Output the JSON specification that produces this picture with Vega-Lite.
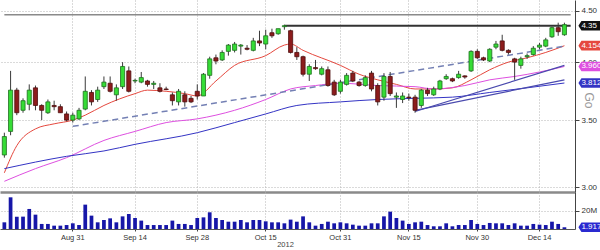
{
  "$schema": "https://vega.github.io/schema/vega-lite/v6.json",
  "padding": 0,
  "spacing": 0,
  "background": "white",
  "config": {
    "view": {"stroke": null},
    "axis": {"labelFont": "Liberation Sans", "titleFont": "Liberation Sans", "labelFontSize": 8, "labelColor": "#333", "domainColor": "#444", "tickColor": "#444", "gridColor": "#b5b5b5", "gridDash": [1, 2], "titleFontWeight": "normal"}
  },
  "datasets": {
    "candles": [
      {"d":"2012-08-16","o":3.23,"h":3.40,"l":3.21,"c":3.37,"v":7.4},
      {"d":"2012-08-17","o":3.41,"h":3.92,"l":3.38,"c":3.75,"v":35.1},
      {"d":"2012-08-20","o":3.75,"h":3.77,"l":3.54,"c":3.56,"v":13.7},
      {"d":"2012-08-21","o":3.58,"h":3.68,"l":3.56,"c":3.66,"v":13.7},
      {"d":"2012-08-22","o":3.63,"h":3.80,"l":3.58,"c":3.75,"v":22.2},
      {"d":"2012-08-23","o":3.77,"h":3.79,"l":3.58,"c":3.62,"v":15.9},
      {"d":"2012-08-24","o":3.62,"h":3.63,"l":3.50,"c":3.58,"v":5.6},
      {"d":"2012-08-27","o":3.56,"h":3.67,"l":3.55,"c":3.65,"v":5.6},
      {"d":"2012-08-28","o":3.62,"h":3.66,"l":3.58,"c":3.61,"v":3.7},
      {"d":"2012-08-29","o":3.61,"h":3.63,"l":3.56,"c":3.56,"v":3.7},
      {"d":"2012-08-30","o":3.55,"h":3.57,"l":3.49,"c":3.50,"v":4.4},
      {"d":"2012-08-31","o":3.50,"h":3.56,"l":3.48,"c":3.54,"v":6.3},
      {"d":"2012-09-03","o":3.51,"h":3.60,"l":3.50,"c":3.58,"v":4.4},
      {"d":"2012-09-04","o":3.59,"h":3.87,"l":3.58,"c":3.74,"v":27.0},
      {"d":"2012-09-05","o":3.73,"h":3.75,"l":3.62,"c":3.65,"v":14.8},
      {"d":"2012-09-06","o":3.67,"h":3.78,"l":3.65,"c":3.75,"v":7.4},
      {"d":"2012-09-07","o":3.78,"h":3.87,"l":3.76,"c":3.82,"v":10.0},
      {"d":"2012-09-10","o":3.81,"h":3.87,"l":3.73,"c":3.74,"v":11.8},
      {"d":"2012-09-11","o":3.71,"h":3.80,"l":3.66,"c":3.77,"v":7.4},
      {"d":"2012-09-12","o":3.78,"h":4.00,"l":3.76,"c":3.96,"v":14.0},
      {"d":"2012-09-13","o":3.92,"h":3.96,"l":3.73,"c":3.74,"v":16.7},
      {"d":"2012-09-14","o":3.83,"h":3.85,"l":3.81,"c":3.835,"v":12.2},
      {"d":"2012-09-17","o":3.82,"h":3.91,"l":3.81,"c":3.86,"v":9.3},
      {"d":"2012-09-18","o":3.83,"h":3.84,"l":3.78,"c":3.80,"v":4.4},
      {"d":"2012-09-19","o":3.80,"h":3.83,"l":3.76,"c":3.81,"v":4.4},
      {"d":"2012-09-20","o":3.77,"h":3.81,"l":3.73,"c":3.74,"v":4.4},
      {"d":"2012-09-21","o":3.76,"h":3.78,"l":3.75,"c":3.755,"v":4.4},
      {"d":"2012-09-24","o":3.71,"h":3.73,"l":3.62,"c":3.66,"v":9.3},
      {"d":"2012-09-25","o":3.65,"h":3.76,"l":3.62,"c":3.74,"v":5.6},
      {"d":"2012-09-26","o":3.71,"h":3.74,"l":3.61,"c":3.65,"v":5.6},
      {"d":"2012-09-27","o":3.68,"h":3.70,"l":3.64,"c":3.65,"v":4.4},
      {"d":"2012-09-28","o":3.74,"h":3.80,"l":3.67,"c":3.70,"v":12.2},
      {"d":"2012-10-01","o":3.70,"h":3.90,"l":3.70,"c":3.89,"v":12.9},
      {"d":"2012-10-02","o":3.88,"h":4.05,"l":3.85,"c":4.03,"v":18.5},
      {"d":"2012-10-03","o":4.04,"h":4.07,"l":3.98,"c":4.01,"v":12.2},
      {"d":"2012-10-04","o":4.02,"h":4.11,"l":4.01,"c":4.09,"v":10.0},
      {"d":"2012-10-05","o":4.10,"h":4.17,"l":4.06,"c":4.16,"v":8.1},
      {"d":"2012-10-08","o":4.11,"h":4.19,"l":4.09,"c":4.17,"v":8.1},
      {"d":"2012-10-09","o":4.15,"h":4.17,"l":4.07,"c":4.16,"v":10.0},
      {"d":"2012-10-10","o":4.13,"h":4.16,"l":4.11,"c":4.12,"v":7.4},
      {"d":"2012-10-11","o":4.11,"h":4.23,"l":4.10,"c":4.20,"v":10.0},
      {"d":"2012-10-12","o":4.20,"h":4.30,"l":4.15,"c":4.18,"v":10.0},
      {"d":"2012-10-15","o":4.17,"h":4.31,"l":4.12,"c":4.25,"v":8.5},
      {"d":"2012-10-16","o":4.28,"h":4.32,"l":4.23,"c":4.25,"v":7.4},
      {"d":"2012-10-17","o":4.27,"h":4.32,"l":4.26,"c":4.32,"v":7.4},
      {"d":"2012-10-18","o":4.34,"h":4.36,"l":4.31,"c":4.35,"v":6.3},
      {"d":"2012-10-19","o":4.30,"h":4.31,"l":4.08,"c":4.09,"v":10.4},
      {"d":"2012-10-22","o":4.09,"h":4.14,"l":4.02,"c":4.05,"v":8.1},
      {"d":"2012-10-23","o":4.05,"h":4.06,"l":3.87,"c":3.89,"v":14.0},
      {"d":"2012-10-24","o":3.89,"h":3.98,"l":3.83,"c":3.96,"v":7.4},
      {"d":"2012-10-25","o":3.95,"h":4.02,"l":3.93,"c":3.94,"v":3.7},
      {"d":"2012-10-26","o":3.89,"h":3.96,"l":3.88,"c":3.94,"v":5.6},
      {"d":"2012-10-29","o":3.93,"h":3.96,"l":3.78,"c":3.79,"v":8.1},
      {"d":"2012-10-30","o":3.82,"h":3.84,"l":3.70,"c":3.71,"v":6.3},
      {"d":"2012-10-31","o":3.74,"h":3.84,"l":3.72,"c":3.82,"v":7.4},
      {"d":"2012-11-01","o":3.80,"h":3.90,"l":3.79,"c":3.88,"v":6.3},
      {"d":"2012-11-02","o":3.90,"h":3.92,"l":3.82,"c":3.83,"v":4.8},
      {"d":"2012-11-05","o":3.82,"h":3.83,"l":3.78,"c":3.79,"v":3.7},
      {"d":"2012-11-06","o":3.79,"h":3.88,"l":3.78,"c":3.86,"v":3.7},
      {"d":"2012-11-07","o":3.90,"h":3.92,"l":3.74,"c":3.76,"v":6.3},
      {"d":"2012-11-08","o":3.79,"h":3.81,"l":3.62,"c":3.65,"v":6.3},
      {"d":"2012-11-09","o":3.69,"h":3.90,"l":3.66,"c":3.87,"v":14.0},
      {"d":"2012-11-12","o":3.87,"h":3.91,"l":3.70,"c":3.72,"v":19.2},
      {"d":"2012-11-13","o":3.69,"h":3.73,"l":3.60,"c":3.70,"v":12.2},
      {"d":"2012-11-14","o":3.67,"h":3.73,"l":3.64,"c":3.70,"v":9.3},
      {"d":"2012-11-15","o":3.69,"h":3.72,"l":3.66,"c":3.685,"v":5.6},
      {"d":"2012-11-16","o":3.69,"h":3.71,"l":3.56,"c":3.58,"v":7.4},
      {"d":"2012-11-19","o":3.62,"h":3.76,"l":3.60,"c":3.75,"v":8.1},
      {"d":"2012-11-20","o":3.75,"h":3.77,"l":3.70,"c":3.72,"v":4.4},
      {"d":"2012-11-21","o":3.71,"h":3.78,"l":3.70,"c":3.76,"v":3.0},
      {"d":"2012-11-22","o":3.76,"h":3.84,"l":3.75,"c":3.83,"v":3.0},
      {"d":"2012-11-23","o":3.85,"h":3.89,"l":3.84,"c":3.87,"v":6.3},
      {"d":"2012-11-26","o":3.85,"h":3.86,"l":3.82,"c":3.83,"v":3.0},
      {"d":"2012-11-27","o":3.86,"h":3.92,"l":3.85,"c":3.89,"v":4.4},
      {"d":"2012-11-28","o":3.875,"h":3.88,"l":3.85,"c":3.865,"v":4.4},
      {"d":"2012-11-29","o":3.92,"h":4.11,"l":3.91,"c":4.10,"v":10.0},
      {"d":"2012-11-30","o":4.10,"h":4.12,"l":4.03,"c":4.04,"v":5.6},
      {"d":"2012-12-03","o":4.04,"h":4.05,"l":4.01,"c":4.02,"v":4.4},
      {"d":"2012-12-04","o":4.01,"h":4.13,"l":4.00,"c":4.12,"v":6.7},
      {"d":"2012-12-05","o":4.14,"h":4.20,"l":4.12,"c":4.17,"v":6.3},
      {"d":"2012-12-06","o":4.20,"h":4.26,"l":4.10,"c":4.11,"v":6.3},
      {"d":"2012-12-07","o":4.11,"h":4.12,"l":4.07,"c":4.09,"v":4.4},
      {"d":"2012-12-10","o":4.03,"h":4.04,"l":3.84,"c":4.00,"v":6.3},
      {"d":"2012-12-11","o":3.97,"h":4.05,"l":3.94,"c":4.03,"v":3.7},
      {"d":"2012-12-12","o":4.05,"h":4.08,"l":4.03,"c":4.06,"v":3.7},
      {"d":"2012-12-13","o":4.07,"h":4.15,"l":4.06,"c":4.13,"v":5.6},
      {"d":"2012-12-14","o":4.14,"h":4.18,"l":4.12,"c":4.16,"v":4.8},
      {"d":"2012-12-17","o":4.15,"h":4.23,"l":4.14,"c":4.21,"v":4.4},
      {"d":"2012-12-18","o":4.24,"h":4.34,"l":4.23,"c":4.33,"v":8.1},
      {"d":"2012-12-19","o":4.33,"h":4.38,"l":4.25,"c":4.29,"v":5.6},
      {"d":"2012-12-20","o":4.26,"h":4.38,"l":4.25,"c":4.36,"v":1.917}
    ],
    "ma": [
      {"s":"ma10","d":"2012-08-16","p":3.10},{"s":"ma10","d":"2012-08-20","p":3.30},{"s":"ma10","d":"2012-08-23","p":3.43},{"s":"ma10","d":"2012-08-28","p":3.47},{"s":"ma10","d":"2012-08-31","p":3.50},{"s":"ma10","d":"2012-09-04","p":3.54},{"s":"ma10","d":"2012-09-07","p":3.62},{"s":"ma10","d":"2012-09-14","p":3.72},{"s":"ma10","d":"2012-09-18","p":3.75},{"s":"ma10","d":"2012-09-21","p":3.74},{"s":"ma10","d":"2012-09-26","p":3.72},{"s":"ma10","d":"2012-09-28","p":3.70},{"s":"ma10","d":"2012-10-03","p":3.83},{"s":"ma10","d":"2012-10-08","p":3.97},{"s":"ma10","d":"2012-10-15","p":4.06},{"s":"ma10","d":"2012-10-18","p":4.16},{"s":"ma10","d":"2012-10-19","p":4.17},{"s":"ma10","d":"2012-10-23","p":4.11},{"s":"ma10","d":"2012-10-31","p":3.97},{"s":"ma10","d":"2012-11-05","p":3.89},{"s":"ma10","d":"2012-11-08","p":3.84},{"s":"ma10","d":"2012-11-13","p":3.80},{"s":"ma10","d":"2012-11-16","p":3.76},{"s":"ma10","d":"2012-11-21","p":3.76},{"s":"ma10","d":"2012-11-26","p":3.77},{"s":"ma10","d":"2012-11-29","p":3.84},{"s":"ma10","d":"2012-12-04","p":3.93},{"s":"ma10","d":"2012-12-07","p":4.00},{"s":"ma10","d":"2012-12-12","p":4.04},{"s":"ma10","d":"2012-12-17","p":4.09},{"s":"ma10","d":"2012-12-20","p":4.154},
      {"s":"ma30","d":"2012-08-16","p":3.04},{"s":"ma30","d":"2012-08-23","p":3.13},{"s":"ma30","d":"2012-08-30","p":3.21},{"s":"ma30","d":"2012-09-07","p":3.34},{"s":"ma30","d":"2012-09-14","p":3.41},{"s":"ma30","d":"2012-09-21","p":3.48},{"s":"ma30","d":"2012-09-28","p":3.51},{"s":"ma30","d":"2012-10-08","p":3.58},{"s":"ma30","d":"2012-10-15","p":3.67},{"s":"ma30","d":"2012-10-19","p":3.76},{"s":"ma30","d":"2012-10-25","p":3.79},{"s":"ma30","d":"2012-10-31","p":3.81},{"s":"ma30","d":"2012-11-08","p":3.79},{"s":"ma30","d":"2012-11-16","p":3.78},{"s":"ma30","d":"2012-11-21","p":3.76},{"s":"ma30","d":"2012-11-28","p":3.79},{"s":"ma30","d":"2012-12-04","p":3.84},{"s":"ma30","d":"2012-12-10","p":3.87},{"s":"ma30","d":"2012-12-14","p":3.91},{"s":"ma30","d":"2012-12-20","p":3.960},
      {"s":"ma50","d":"2012-08-16","p":3.13},{"s":"ma50","d":"2012-08-30","p":3.22},{"s":"ma50","d":"2012-09-07","p":3.26},{"s":"ma50","d":"2012-09-14","p":3.31},{"s":"ma50","d":"2012-09-28","p":3.40},{"s":"ma50","d":"2012-10-08","p":3.48},{"s":"ma50","d":"2012-10-15","p":3.55},{"s":"ma50","d":"2012-10-22","p":3.62},{"s":"ma50","d":"2012-10-31","p":3.65},{"s":"ma50","d":"2012-11-08","p":3.67},{"s":"ma50","d":"2012-11-16","p":3.68},{"s":"ma50","d":"2012-11-26","p":3.69},{"s":"ma50","d":"2012-12-04","p":3.73},{"s":"ma50","d":"2012-12-12","p":3.77},{"s":"ma50","d":"2012-12-20","p":3.812}
    ],
    "trend": [
      {"k":"dash","d":"2012-08-31","d2":"2012-12-20","p":3.45,"p2":4.15},
      {"k":"solidA","d":"2012-11-16","d2":"2012-12-20","p":3.57,"p2":3.97},
      {"k":"solidB","d":"2012-11-16","d2":"2012-12-20","p":3.58,"p2":3.84},
      {"k":"res","d":"2012-10-18","d2":"2012-12-21","p":4.35,"p2":4.35},
      {"k":"top","d":"2012-08-16","d2":"2012-12-21","p":4.46,"p2":4.46}
    ],
    "tags": [
      {"k":"level","d":"2012-12-20","p":4.35,"t":"4.35"},
      {"k":"ma10","d":"2012-12-20","p":4.1544,"t":"4.1544"},
      {"k":"ma30","d":"2012-12-20","p":3.9601,"t":"3.9601"},
      {"k":"ma50","d":"2012-12-20","p":3.812,"t":"3.812"}
    ],
    "vtags": [
      {"d":"2012-12-20","v":1.917,"t":"1.917M"}
    ]
  },
  "vconcat": [
    {
      "width": 575,
      "height": 192,
      "encoding": {
        "x": {"field": "d", "type": "ordinal",
          "scale": {"type": "band", "paddingInner": 0, "paddingOuter": 0.2, "domain": ["2012-08-16","2012-08-17","2012-08-20","2012-08-21","2012-08-22","2012-08-23","2012-08-24","2012-08-27","2012-08-28","2012-08-29","2012-08-30","2012-08-31","2012-09-03","2012-09-04","2012-09-05","2012-09-06","2012-09-07","2012-09-10","2012-09-11","2012-09-12","2012-09-13","2012-09-14","2012-09-17","2012-09-18","2012-09-19","2012-09-20","2012-09-21","2012-09-24","2012-09-25","2012-09-26","2012-09-27","2012-09-28","2012-10-01","2012-10-02","2012-10-03","2012-10-04","2012-10-05","2012-10-08","2012-10-09","2012-10-10","2012-10-11","2012-10-12","2012-10-15","2012-10-16","2012-10-17","2012-10-18","2012-10-19","2012-10-22","2012-10-23","2012-10-24","2012-10-25","2012-10-26","2012-10-29","2012-10-30","2012-10-31","2012-11-01","2012-11-02","2012-11-05","2012-11-06","2012-11-07","2012-11-08","2012-11-09","2012-11-12","2012-11-13","2012-11-14","2012-11-15","2012-11-16","2012-11-19","2012-11-20","2012-11-21","2012-11-22","2012-11-23","2012-11-26","2012-11-27","2012-11-28","2012-11-29","2012-11-30","2012-12-03","2012-12-04","2012-12-05","2012-12-06","2012-12-07","2012-12-10","2012-12-11","2012-12-12","2012-12-13","2012-12-14","2012-12-17","2012-12-18","2012-12-19","2012-12-20","2012-12-21"]},
          "axis": {"title": null, "labels": false, "ticks": false, "grid": true, "bandPosition": 0.5, "values": ["2012-08-31","2012-09-14","2012-09-28","2012-10-15","2012-10-31","2012-11-15","2012-11-30","2012-12-14"], "domainColor": "#8a8a8a", "domainWidth": 2.5}
        }
      },
      "layer": [
        {
          "data": {"name": "ma"},
          "mark": {"type": "line", "strokeWidth": 1, "interpolate": "monotone"},
          "encoding": {
            "y": {"field": "p", "type": "quantitative",
              "scale": {"type": "log", "domain": [2.966, 4.615], "nice": false, "zero": false},
              "axis": {"orient": "right", "values": [3, 3.5, 4, 4.5], "format": ".2f", "grid": true, "tickSize": 4, "labelPadding": 2, "title": "Go", "titleAngle": 90, "titleX": 13, "titleY": 100, "titleBaseline": "middle", "titleColor": "#9a9a9a", "titleFontSize": 12, "titleAlign": "center"}},
            "color": {"field": "s", "type": "nominal", "legend": null,
              "scale": {"domain": ["level", "ma10", "ma30", "ma50"], "range": ["#111111", "#e5483e", "#de4fe0", "#3434c4"]}}
          }
        },
        {
          "data": {"name": "trend"},
          "transform": [{"filter": "datum.k === 'dash'"}],
          "mark": {"type": "rule", "strokeDash": [6, 4], "strokeWidth": 1.5, "color": "#7480b4"},
          "encoding": {"x2": {"field": "d2"}, "y": {"field": "p", "type": "quantitative", "scale": {"type": "log", "domain": [2.966, 4.615], "nice": false, "zero": false}}, "y2": {"field": "p2"}}
        },
        {
          "data": {"name": "trend"},
          "transform": [{"filter": "datum.k === 'solidA' || datum.k === 'solidB'"}],
          "mark": {"type": "rule", "strokeWidth": 1.2, "color": "#4a4aae"},
          "encoding": {"x2": {"field": "d2"}, "y": {"field": "p", "type": "quantitative", "scale": {"type": "log", "domain": [2.966, 4.615], "nice": false, "zero": false}}, "y2": {"field": "p2"}}
        },
        {
          "data": {"name": "trend"},
          "transform": [{"filter": "datum.k === 'res'"}],
          "mark": {"type": "rule", "strokeWidth": 2, "color": "#333333"},
          "encoding": {"x2": {"field": "d2"}, "y": {"field": "p", "type": "quantitative", "scale": {"type": "log", "domain": [2.966, 4.615], "nice": false, "zero": false}}, "y2": {"field": "p2"}}
        },
        {
          "data": {"name": "trend"},
          "transform": [{"filter": "datum.k === 'top'"}],
          "mark": {"type": "rule", "strokeWidth": 1.5, "color": "#8a8a8a"},
          "encoding": {"x2": {"field": "d2"}, "y": {"field": "p", "type": "quantitative", "scale": {"type": "log", "domain": [2.966, 4.615], "nice": false, "zero": false}}, "y2": {"field": "p2"}}
        },
        {
          "data": {"name": "candles"},
          "mark": {"type": "rule", "color": "#3a3a3a", "strokeWidth": 1},
          "encoding": {"y": {"field": "l", "type": "quantitative", "scale": {"type": "log", "domain": [2.966, 4.615], "nice": false, "zero": false}}, "y2": {"field": "h"}}
        },
        {
          "data": {"name": "candles"},
          "mark": {"type": "bar", "width": {"band": 0.66}, "strokeWidth": 0.8},
          "encoding": {
            "y": {"field": "o", "type": "quantitative", "scale": {"type": "log", "domain": [2.966, 4.615], "nice": false, "zero": false}},
            "y2": {"field": "c"},
            "fill": {"condition": {"test": "datum.c >= datum.o", "value": "#36dc36"}, "value": "#8c1c1c"},
            "stroke": {"condition": {"test": "datum.c >= datum.o", "value": "#1e6e1e"}, "value": "#4e0e0e"}
          }
        },
        {
          "data": {"name": "tags"},
          "mark": {"type": "point", "shape": "M0.7,0L0.85,-0.24L2.8,-0.24L2.8,0.24L0.85,0.24Z", "size": 1600, "filled": true, "opacity": 1},
          "encoding": {
            "y": {"field": "p", "type": "quantitative", "scale": {"type": "log", "domain": [2.966, 4.615], "nice": false, "zero": false}},
            "color": {"field": "k", "type": "nominal", "legend": null, "scale": {"domain": ["level", "ma10", "ma30", "ma50"], "range": ["#111111", "#e5483e", "#de4fe0", "#3434c4"]}}
          }
        },
        {
          "data": {"name": "tags"},
          "mark": {"type": "text", "align": "left", "baseline": "middle", "dx": 17, "fontSize": 8, "font": "Liberation Sans", "color": "#ffffff"},
          "encoding": {
            "y": {"field": "p", "type": "quantitative", "scale": {"type": "log", "domain": [2.966, 4.615], "nice": false, "zero": false}},
            "text": {"field": "t"}
          }
        }
      ]
    },
    {
      "width": 575,
      "height": 37,
      "data": {"name": "candles"},
      "encoding": {
        "x": {"field": "d", "type": "ordinal",
          "scale": {"type": "band", "paddingInner": 0, "paddingOuter": 0.2, "domain": ["2012-08-16","2012-08-17","2012-08-20","2012-08-21","2012-08-22","2012-08-23","2012-08-24","2012-08-27","2012-08-28","2012-08-29","2012-08-30","2012-08-31","2012-09-03","2012-09-04","2012-09-05","2012-09-06","2012-09-07","2012-09-10","2012-09-11","2012-09-12","2012-09-13","2012-09-14","2012-09-17","2012-09-18","2012-09-19","2012-09-20","2012-09-21","2012-09-24","2012-09-25","2012-09-26","2012-09-27","2012-09-28","2012-10-01","2012-10-02","2012-10-03","2012-10-04","2012-10-05","2012-10-08","2012-10-09","2012-10-10","2012-10-11","2012-10-12","2012-10-15","2012-10-16","2012-10-17","2012-10-18","2012-10-19","2012-10-22","2012-10-23","2012-10-24","2012-10-25","2012-10-26","2012-10-29","2012-10-30","2012-10-31","2012-11-01","2012-11-02","2012-11-05","2012-11-06","2012-11-07","2012-11-08","2012-11-09","2012-11-12","2012-11-13","2012-11-14","2012-11-15","2012-11-16","2012-11-19","2012-11-20","2012-11-21","2012-11-22","2012-11-23","2012-11-26","2012-11-27","2012-11-28","2012-11-29","2012-11-30","2012-12-03","2012-12-04","2012-12-05","2012-12-06","2012-12-07","2012-12-10","2012-12-11","2012-12-12","2012-12-13","2012-12-14","2012-12-17","2012-12-18","2012-12-19","2012-12-20","2012-12-21"]},
          "axis": {"title": "2012", "titleX": 285, "titleAlign": "center", "titlePadding": 0, "titleFontSize": 7.5, "titleColor": "#444", "labelAngle": 0, "labelFontSize": 7.5, "labelPadding": 2, "tickSize": 2, "grid": true, "bandPosition": 0.5, "values": ["2012-08-31","2012-09-14","2012-09-28","2012-10-15","2012-10-31","2012-11-15","2012-11-30","2012-12-14"], "labelExpr": "utcFormat(toDate(datum.value), '%b %d')", "domainColor": "#555"}
        }
      },
      "layer": [
        {
          "mark": {"type": "bar", "width": {"band": 0.6}, "color": "#1616a8"},
          "encoding": {
            "y": {"field": "v", "type": "quantitative", "scale": {"domain": [0, 41], "nice": false},
              "axis": {"orient": "right", "values": [20], "labelExpr": "'20M'", "grid": true, "tickSize": 4, "labelPadding": 2, "title": null}}
          }
        },
        {
          "data": {"name": "vtags"},
          "mark": {"type": "point", "shape": "M0.7,0L0.85,-0.24L2.8,-0.24L2.8,0.24L0.85,0.24Z", "size": 1600, "filled": true, "opacity": 1, "color": "#2a2ad0"},
          "encoding": {"y": {"field": "v", "type": "quantitative", "scale": {"domain": [0, 41], "nice": false}}}
        },
        {
          "data": {"name": "vtags"},
          "mark": {"type": "text", "align": "left", "baseline": "middle", "dx": 17, "fontSize": 8, "font": "Liberation Sans", "color": "#ffffff"},
          "encoding": {"y": {"field": "v", "type": "quantitative", "scale": {"domain": [0, 41], "nice": false}}, "text": {"field": "t"}}
        }
      ]
    }
  ]
}
